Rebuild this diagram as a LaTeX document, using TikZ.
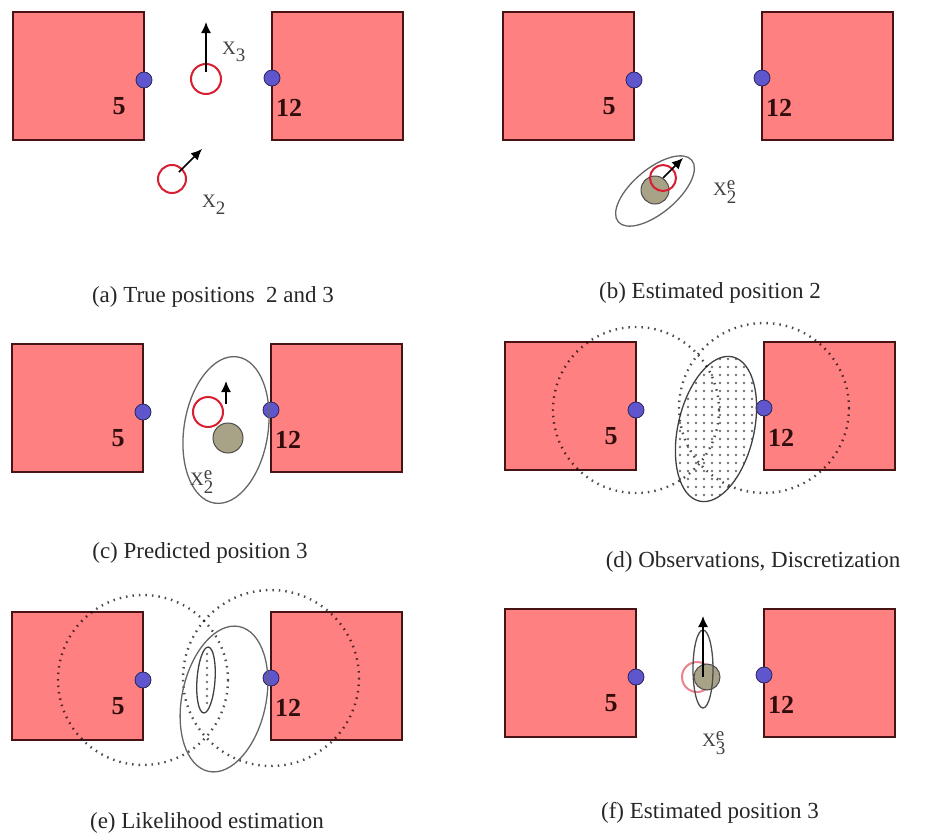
\documentclass[tikz,border=0pt]{standalone}
\usepackage{fontspec}
\setmainfont{Liberation Serif}
\usetikzlibrary{arrows.meta}

\definecolor{roomfill}{RGB}{255,128,128}
\definecolor{roomline}{RGB}{70,20,20}
\definecolor{beaconblue}{RGB}{95,85,205}
\definecolor{truered}{RGB}{215,30,50}
\definecolor{estgrey}{RGB}{168,162,135}

\tikzset{
  room/.style={fill=roomfill, draw=roomline, line width=2pt},
  beacon/.style={circle, fill=beaconblue, draw=beaconblue!45!black, line width=0.8pt, minimum size=16pt, inner sep=0pt},
  roomlabel/.style={font=\fontsize{26}{28}\selectfont\bfseries, text=roomline!70!black},
  truepos/.style={draw=truered, line width=2pt},
  estpos/.style={fill=estgrey, draw=black!70, line width=1pt},
  spread/.style={draw=black!60, line width=1.3pt},
  rangering/.style={draw=black, draw opacity=0.7, line width=2.4pt, dash pattern=on 1.5pt off 5pt},
  move/.style={-{Latex[length=11pt,width=10pt]}, line width=1.5pt},
  xlabel/.style={font=\fontsize{19}{21}\selectfont, text=black!75},
  caption/.style={font=\fontsize{23}{26}\selectfont, text=black!85},
}

% two rooms with their beacons
\newcommand{\rooms}{%
  \draw[room] (0,0) rectangle (131,128);
  \draw[room] (259,0) rectangle (390,128);
  \node[beacon] (b5) at (131,68) {};
  \node[beacon] (b12) at (259,66) {};
  \node[roomlabel] (l5) at (106,94) {5};
  \node[roomlabel] (l12) at (276,96) {12};
}

\begin{document}
\begin{tikzpicture}[x=1pt,y=-1pt]
\useasboundingbox (0,0) rectangle (932,838);

% (a)
\begin{scope}[shift={(13,12)}, name prefix=a-]
\rooms
\coordinate (p3) at (193,67);
\coordinate (p2) at (159,167);
\draw[truepos] (p3) circle (15);
\draw[truepos] (p2) circle (14);
\draw[move] (193,60) -- (193,10);
\draw[move] (166,160) -- (189,137);
\node[xlabel] (x3) at (221,40) {X$_{\textrm{3}}$};
\node[xlabel] (x2) at (201,193) {X$_{\textrm{2}}$};
\end{scope}
\node[caption] (capa) at (213,297) {(a) True positions\ \ 2 and 3};

% (b)
\begin{scope}[shift={(503,12)}, name prefix=b-]
\rooms
\coordinate (e2) at (152,179);
\draw[spread, rotate around={40:(e2)}] (e2) ellipse [x radius=48, y radius=22];
\draw[estpos] (152,178) circle (14);
\draw[truepos] (160,166) circle (13);
\draw[move] (160,166) -- (180,146);
\node[xlabel] (x2) at (222,180) {X$_{\textrm{2}}^{\textrm{e}}$};
\end{scope}
\node[caption] (capb) at (710,293) {(b) Estimated position 2};

% (c)
\begin{scope}[shift={(12,344)}, name prefix=c-]
\rooms
\coordinate (e3) at (214,86);
\draw[spread, rotate around={-9:(e3)}] (e3) ellipse [x radius=42, y radius=74];
\draw[truepos] (196,68) circle (15);
\draw[estpos] (216,94) circle (15);
\draw[move] (214,60) -- (214,37);
\node[xlabel] (x2) at (190,138) {X$_{\textrm{2}}^{\textrm{e}}$};
\end{scope}
\node[caption] (capc) at (200,553) {(c) Predicted position 3};

% (d)
\begin{scope}[shift={(505,342)}, name prefix=d-]
\rooms
\coordinate (e3) at (211,87);
\begin{scope}
\clip[rotate around={-13:(e3)}] (e3) ellipse [x radius=38, y radius=74];
\foreach \i in {0,...,11}
  \foreach \j in {0,...,19}
    \fill[black!55] (167+8*\i, 9+8*\j) circle (1.3);
\end{scope}
\draw[spread, draw=black!75, rotate around={-13:(e3)}] (e3) ellipse [x radius=38, y radius=74];
\draw[rangering] (b5) circle (83);
\draw[rangering] (b12) circle (85);
\end{scope}
\node[caption] (capd) at (753,562) {(d) Observations, Discretization};

% (e)
\begin{scope}[shift={(12,612)}, name prefix=e-]
\rooms
\coordinate (e3) at (212,87);
\coordinate (l3) at (194,68);
\draw[rangering] (b5) circle (85);
\draw[rangering] (b12) circle (88);
\draw[spread, rotate around={-12:(e3)}] (e3) ellipse [x radius=42, y radius=74];
\foreach \j in {0,...,7}
  \fill[black!55] (195, 42+7*\j) circle (1.3);
\draw[spread, draw=black!75, rotate around={-4:(l3)}] (l3) ellipse [x radius=9, y radius=33];
\end{scope}
\node[caption] (cape) at (207,823) {(e) Likelihood estimation};

% (f)
\begin{scope}[shift={(505,609)}, name prefix=f-]
\rooms
\coordinate (e3) at (198,60);
\draw[truepos, draw=truered!55] (192,68) circle (15);
\draw[estpos] (202,68) circle (13);
\draw[spread, draw=black!70] (e3) ellipse [x radius=10, y radius=39];
\draw[move] (198,68) -- (198,7);
\node[xlabel] (x3) at (209,134) {X$_{\textrm{3}}^{\textrm{e}}$};
\end{scope}
\node[caption] (capf) at (710,813) {(f) Estimated position 3};
\end{tikzpicture}
\end{document}
